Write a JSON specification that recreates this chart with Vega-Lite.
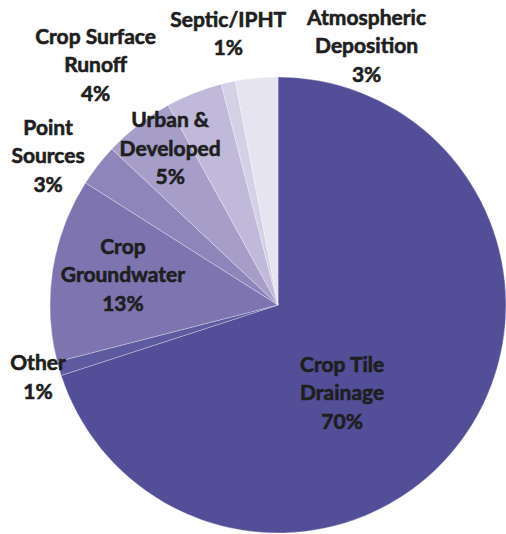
{
  "$schema": "https://vega.github.io/schema/vega-lite/v6.json",
  "width": 456,
  "height": 456,
  "padding": {"left": 50, "top": 77, "right": 0, "bottom": 1},
  "autosize": {"type": "none"},
  "background": "white",
  "view": {"stroke": null},
  "config": {"text": {"font": "Lato", "fontWeight": "bold", "fontSize": 21, "lineHeight": 28.5, "lineBreak": "\n", "align": "center", "baseline": "middle", "color": "#1e1e1e", "stroke": "#1e1e1e", "strokeWidth": 0.6}},
  "data": {
    "values": [
      {"idx": 1, "cat": "Crop Tile Drainage", "value": 70, "label": "Crop Tile\nDrainage\n70%"},
      {"idx": 2, "cat": "Other", "value": 1, "label": "Other\n1%"},
      {"idx": 3, "cat": "Crop Groundwater", "value": 13, "label": "Crop\nGroundwater\n13%"},
      {"idx": 4, "cat": "Point Sources", "value": 3, "label": "Point\nSources\n3%"},
      {"idx": 5, "cat": "Urban & Developed", "value": 5, "label": "Urban &\nDeveloped\n5%"},
      {"idx": 6, "cat": "Crop Surface Runoff", "value": 4, "label": "Crop Surface\nRunoff\n4%"},
      {"idx": 7, "cat": "Septic/IPHT", "value": 1, "label": "Septic/IPHT\n1%"},
      {"idx": 8, "cat": "Atmospheric Deposition", "value": 3, "label": "Atmospheric\nDeposition\n3%"}
    ]
  },
  "encoding": {
    "theta": {"field": "value", "type": "quantitative", "stack": true},
    "order": {"field": "idx", "type": "quantitative"}
  },
  "layer": [
    {
      "mark": {"type": "arc", "stroke": "#ffffff", "strokeWidth": 0.6, "strokeOpacity": 0.5},
      "encoding": {
        "color": {
          "field": "cat",
          "type": "nominal",
          "legend": null,
          "scale": {
            "domain": ["Crop Tile Drainage", "Other", "Crop Groundwater", "Point Sources", "Urban & Developed", "Crop Surface Runoff", "Septic/IPHT", "Atmospheric Deposition"],
            "range": ["#524e98", "#5e5aa0", "#7d74b0", "#8e85bb", "#a69dc9", "#c0b9d9", "#d4d0e5", "#e6e4f1"]
          }
        }
      }
    },
    {
      "mark": {"type": "text", "radius": 104, "dx": -20, "dy": -0.5},
      "encoding": {"text": {"condition": {"test": "datum.idx === 1", "field": "label"}, "value": ""}}
    },
    {
      "mark": {"type": "text", "radius": 251, "dx": 1, "dy": -11},
      "encoding": {"text": {"condition": {"test": "datum.idx === 2", "field": "label"}, "value": ""}}
    },
    {
      "mark": {"type": "text", "radius": 158, "dx": 1, "dy": -32.5},
      "encoding": {"text": {"condition": {"test": "datum.idx === 3", "field": "label"}, "value": ""}}
    },
    {
      "mark": {"type": "text", "radius": 272, "dx": -15, "dy": -9.5},
      "encoding": {"text": {"condition": {"test": "datum.idx === 4", "field": "label"}, "value": ""}}
    },
    {
      "mark": {"type": "text", "radius": 189, "dx": 8, "dy": -34.5},
      "encoding": {"text": {"condition": {"test": "datum.idx === 5", "field": "label"}, "value": ""}}
    },
    {
      "mark": {"type": "text", "radius": 289, "dx": -76, "dy": 1.5},
      "encoding": {"text": {"condition": {"test": "datum.idx === 6", "field": "label"}, "value": ""}}
    },
    {
      "mark": {"type": "text", "radius": 274, "dx": 10, "dy": -17},
      "encoding": {"text": {"condition": {"test": "datum.idx === 7", "field": "label"}, "value": ""}}
    },
    {
      "mark": {"type": "text", "radius": 249, "dx": 112, "dy": -38.5},
      "encoding": {"text": {"condition": {"test": "datum.idx === 8", "field": "label"}, "value": ""}}
    }
  ]
}
